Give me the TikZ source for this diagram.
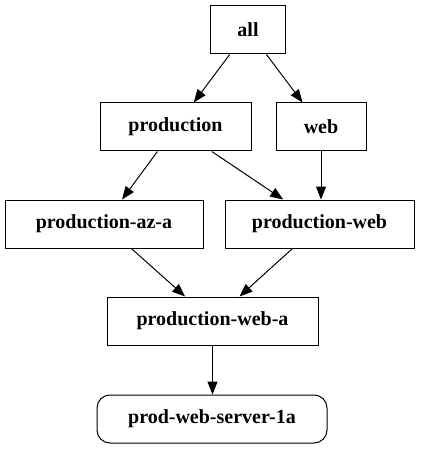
\documentclass[tikz,border=0pt]{standalone}
\usepackage{fontspec}
\setmainfont{Liberation Serif}
\usetikzlibrary{arrows.meta}
\begin{document}
\begin{tikzpicture}[x=1pt,y=-1pt,
  box/.style={draw, line width=1pt, inner sep=0pt, minimum height=48pt, font=\fontsize{20}{24}\selectfont\bfseries},
  rbox/.style={box, rounded corners=13pt},
  edge/.style={line width=1pt, -{Triangle[length=13pt,width=10pt]}}]
\useasboundingbox (0,0) rectangle (423,449);
\node[box, minimum width=75pt] (all) at (248,30) {all};
\node[box, minimum width=151pt] (production) at (175.5,127) {production};
\node[box, minimum width=90pt] (web) at (321,127) {web};
\node[box, minimum width=198pt] (az) at (104,224) {production-az-a};
\node[box, minimum width=189pt] (pweb) at (319.5,224) {production-web};
\node[box, minimum width=211pt] (pwa) at (212.5,321) {production-web-a};
\node[rbox, minimum width=230pt] (srv) at (212,419) {prod-web-server-1a};
\draw[edge] (all) -- (production);
\draw[edge] (all) -- (web);
\draw[edge] (production) -- (az);
\draw[edge] (production) -- (pweb);
\draw[edge] (web.south) -- (web.south |- pweb.north);
\draw[edge] (az) -- (pwa);
\draw[edge] (pweb) -- (pwa);
\draw[edge] (pwa.south) -- (pwa.south |- srv.north);
\end{tikzpicture}
\end{document}
